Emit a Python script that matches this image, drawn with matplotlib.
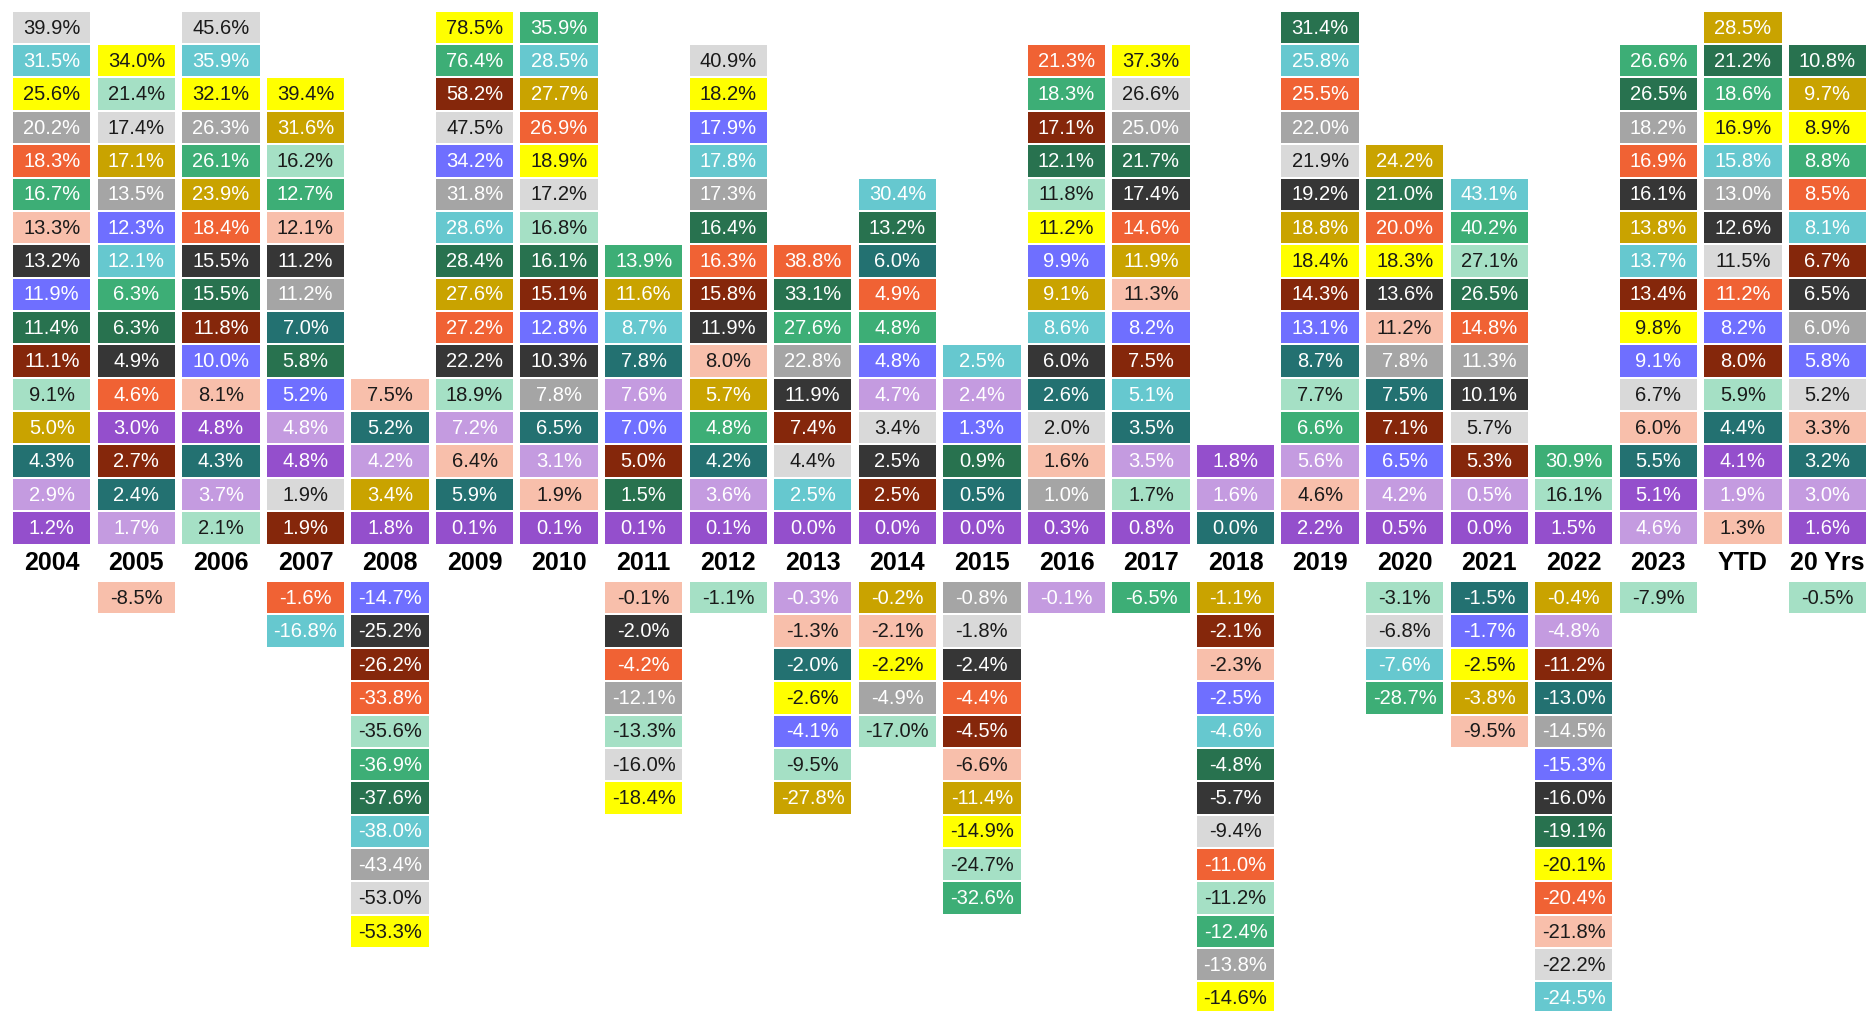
import matplotlib
matplotlib.use("Agg")
import matplotlib.pyplot as plt

# columns of the table
periods = [str(y) for y in range(2004, 2024)] + ["YTD", "20 Yrs"]

# returns per asset class (colour-coded in the table), one value per period
light_gray = [39.9, 17.4, 45.6, 1.9, -53.0, 47.5, 17.2, -16.0, 40.9, 4.4, 3.4, -1.8, 2.0, 26.6, -9.4, 21.9, -6.8, 5.7, -22.2, 6.7, 11.5, 5.2]
cyan = [31.5, 12.1, 35.9, -16.8, -38.0, 28.6, 28.5, 8.7, 17.8, 2.5, 30.4, 2.5, 8.6, 5.1, -4.6, 25.8, -7.6, 43.1, -24.5, 13.7, 15.8, 8.1]
yellow = [25.6, 34.0, 32.1, 39.4, -53.3, 78.5, 18.9, -18.4, 18.2, -2.6, -2.2, -14.9, 11.2, 37.3, -14.6, 18.4, 18.3, -2.5, -20.1, 9.8, 16.9, 8.9]
green = [16.7, 6.3, 26.1, 12.7, -36.9, 76.4, 35.9, 13.9, 4.8, 27.6, 4.8, -32.6, 18.3, -6.5, -12.4, 6.6, -28.7, 40.2, 30.9, 26.6, 18.6, 8.8]
charcoal = [13.2, 4.9, 15.5, 11.2, -25.2, 22.2, 10.3, -2.0, 11.9, 11.9, 2.5, -2.4, 6.0, 17.4, -5.7, 19.2, 13.6, 10.1, -16.0, 16.1, 12.6, 6.5]
gray = [20.2, 13.5, 26.3, 11.2, -43.4, 31.8, 7.8, -12.1, 17.3, 22.8, -4.9, -0.8, 1.0, 25.0, -13.8, 22.0, 7.8, 11.3, -14.5, 18.2, 13.0, 6.0]
orange = [18.3, 4.6, 18.4, -1.6, -33.8, 27.2, 26.9, -4.2, 16.3, 38.8, 4.9, -4.4, 21.3, 14.6, -11.0, 25.5, 20.0, 14.8, -20.4, 16.9, 11.2, 8.5]
salmon = [13.3, -8.5, 8.1, 12.1, 7.5, 6.4, 1.9, -0.1, 8.0, -1.3, -2.1, -6.6, 1.6, 11.3, -2.3, 4.6, 11.2, -9.5, -21.8, 6.0, 1.3, 3.3]
blue = [11.9, 12.3, 10.0, 5.2, -14.7, 34.2, 12.8, 7.0, 17.9, -4.1, 4.8, 1.3, 9.9, 8.2, -2.5, 13.1, 6.5, -1.7, -15.3, 9.1, 8.2, 5.8]
dark_green = [11.4, 6.3, 15.5, 5.8, -37.6, 28.4, 16.1, 1.5, 16.4, 33.1, 13.2, 0.9, 12.1, 21.7, -4.8, 31.4, 21.0, 26.5, -19.1, 26.5, 21.2, 10.8]
brown = [11.1, 2.7, 11.8, 1.9, -26.2, 58.2, 15.1, 5.0, 15.8, 7.4, 2.5, -4.5, 17.1, 7.5, -2.1, 14.3, 7.1, 5.3, -11.2, 13.4, 8.0, 6.7]
mint = [9.1, 21.4, 2.1, 16.2, -35.6, 18.9, 16.8, -13.3, -1.1, -9.5, -17.0, -24.7, 11.8, 1.7, -11.2, 7.7, -3.1, 27.1, 16.1, -7.9, 5.9, -0.5]
gold = [5.0, 17.1, 23.9, 31.6, 3.4, 27.6, 27.7, 11.6, 5.7, -27.8, -0.2, -11.4, 9.1, 11.9, -1.1, 18.8, 24.2, -3.8, -0.4, 13.8, 28.5, 9.7]
teal = [4.3, 2.4, 4.3, 7.0, 5.2, 5.9, 6.5, 7.8, 4.2, -2.0, 6.0, 0.5, 2.6, 3.5, 0.0, 8.7, 7.5, -1.5, -13.0, 5.5, 4.4, 3.2]
lavender = [2.9, 1.7, 3.7, 4.8, 4.2, 7.2, 3.1, 7.6, 3.6, -0.3, 4.7, 2.4, -0.1, 3.5, 1.6, 5.6, 4.2, 0.5, -4.8, 4.6, 1.9, 3.0]
purple = [1.2, 3.0, 4.8, 4.8, 1.8, 0.1, 0.1, 0.1, 0.1, 0.0, 0.0, 0.0, 0.3, 0.8, 1.8, 2.2, 0.5, 0.0, 1.5, 5.1, 4.1, 1.6]

# (values, fill, text colour) - list order also breaks ties between equal values
assets = [
    (light_gray, "#d9d9d9", "#1a1a1a"),
    (cyan, "#66c8cf", "white"),
    (yellow, "#ffff00", "#1a1a1a"),
    (green, "#3dae76", "white"),
    (charcoal, "#363636", "white"),
    (gray, "#a5a5a5", "white"),
    (orange, "#f06234", "white"),
    (salmon, "#f8bfab", "#1a1a1a"),
    (blue, "#6f6fff", "white"),
    (dark_green, "#28724f", "white"),
    (brown, "#85270b", "white"),
    (mint, "#a5e0c5", "#1a1a1a"),
    (gold, "#c9a300", "white"),
    (teal, "#237171", "white"),
    (lavender, "#c49be0", "white"),
    (purple, "#944fcc", "white"),
]

FONT = ["Liberation Sans Narrow", "Liberation Sans", "DejaVu Sans"]
LABEL_GAP = 1.094  # height of the year-label band, in rows


def main():
    fig = plt.figure(figsize=(18.68, 10.11), dpi=100)
    ax = fig.add_axes([0, 0, 1, 1])

    for col, period in enumerate(periods):
        cells = [(vals[col], prio, fc, tc) for prio, (vals, fc, tc) in enumerate(assets)]
        cells.sort(key=lambda c: (-c[0], c[1]))
        pos = [c for c in cells if c[0] >= 0]
        neg = [c for c in cells if c[0] < 0]

        placed = []
        for i, c in enumerate(pos):
            placed.append((len(pos) - 1 - i, c))
        for i, c in enumerate(neg):
            placed.append((-LABEL_GAP - 1 - i, c))

        for y, (val, _, fc, tc) in placed:
            ax.bar(col, 0.94, bottom=y + 0.03, width=0.915, color=fc,
                   linewidth=0)
            ax.text(col, y + 0.48, f"{val:.1f}%", ha="center", va="center",
                    fontsize=14.5, color=tc, family=FONT)

        ax.text(col, -LABEL_GAP / 2, period, ha="center", va="center",
                fontsize=18, fontweight="bold", color="black", family=FONT)

    ax.set_xlim(-0.6127, 21.48)
    ax.set_ylim(-13.98, 16.32)
    ax.axis("off")

    fig.savefig("out.png", dpi=100, facecolor="white")


if __name__ == "__main__":
    main()
